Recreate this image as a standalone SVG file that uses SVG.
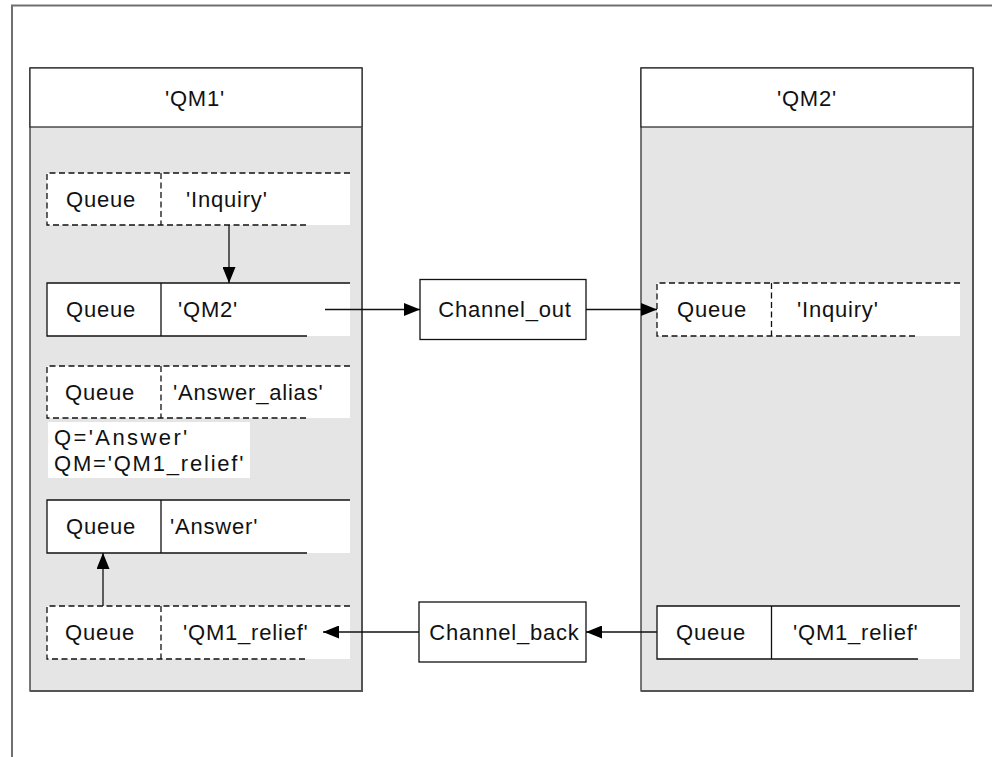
<svg xmlns="http://www.w3.org/2000/svg" width="992" height="757" viewBox="0 0 992 757">
<style>
text{font-family:"Liberation Sans",Arial,sans-serif;font-size:22px;fill:#111;letter-spacing:0.8px}
.qm{fill:#e5e5e5;stroke:#222;stroke-width:1.2}
.hdr{fill:#fff;stroke:#222;stroke-width:1.2}
.shadow{fill:none;stroke:#555;stroke-width:2}
.cell{fill:#fff;stroke:none}
.sl{stroke:#111;stroke-width:1.3;fill:none}
.dl{stroke:#111;stroke-width:1.3;fill:none;stroke-dasharray:6 3.5}
.box{fill:#fff;stroke:#111;stroke-width:1.3}
.conn{stroke:#111;stroke-width:1.3;fill:none;marker-end:url(#ah)}
.frame{stroke:#707070;stroke-width:2;fill:none}
.mid{text-anchor:middle}
</style>
<defs>
<marker id="ah" markerUnits="userSpaceOnUse" markerWidth="17" markerHeight="13" refX="16" refY="6.5" orient="auto">
<path d="M0,0 L16,6.5 L0,13 z" fill="#000"/>
</marker>
</defs>
<rect width="992" height="757" fill="#fff"/>
<path class="frame" d="M12,757 L12,5.5 L992,5.5"/>

<g id="qm1">
<rect class="qm" x="30" y="68" width="332" height="623"/>
<rect class="hdr" x="30" y="68" width="332" height="59"/>
<path class="shadow" d="M30,691 L362,691 L362,127"/>
<text class="mid" x="195" y="106">'QM1'</text>
</g>

<g id="qm2">
<rect class="qm" x="641" y="68" width="332" height="623"/>
<rect class="hdr" x="641" y="68" width="332" height="59"/>
<path class="shadow" d="M641,691 L973,691 L973,127"/>
<text class="mid" x="807" y="106">'QM2'</text>
</g>

<g id="qm1-inquiry">
<rect class="cell" x="47" y="173" width="303" height="52"/>
<path class="dl" d="M350,173 L47,173 L47,225 L307,225 M161,173 L161,225"/>
<text x="66" y="207">Queue</text>
<text x="186" y="207">'Inquiry'</text>
</g>

<g id="qm1-qm2">
<rect class="cell" x="47" y="283" width="303" height="53"/>
<path class="sl" d="M350,283 L47,283 L47,336 L307,336 M161,283 L161,336"/>
<text x="66" y="317">Queue</text>
<text x="178" y="317">'QM2'</text>
</g>

<g id="qm1-answer-alias">
<rect class="cell" x="47" y="366" width="303" height="52"/>
<path class="dl" d="M350,366 L47,366 L47,418 L307,418 M161,366 L161,418"/>
<text x="65" y="400">Queue</text>
<text x="173" y="400">'Answer_alias'</text>
</g>

<g id="alias-note">
<rect class="cell" x="48" y="422" width="202" height="56"/>
<text x="54" y="445" style="letter-spacing:2.4px">Q='Answer'</text>
<text x="54" y="471" style="letter-spacing:1.8px">QM='QM1_relief'</text>
</g>

<g id="qm1-answer">
<rect class="cell" x="47" y="500" width="303" height="53"/>
<path class="sl" d="M350,500 L47,500 L47,553 L307,553 M161,500 L161,553"/>
<text x="66" y="534">Queue</text>
<text x="170" y="534">'Answer'</text>
</g>

<g id="qm1-qm1relief">
<rect class="cell" x="47" y="606" width="303" height="53"/>
<path class="dl" d="M350,606 L47,606 L47,659 L307,659 M161,606 L161,659"/>
<text x="65" y="640">Queue</text>
<text x="183" y="640">'QM1_relief'</text>
</g>

<g id="qm2-inquiry">
<rect class="cell" x="657" y="283" width="303" height="53"/>
<path class="dl" d="M960,283 L657,283 L657,336 L918,336 M771.5,283 L771.5,336"/>
<text x="677" y="317">Queue</text>
<text x="797" y="317">'Inquiry'</text>
</g>

<g id="qm2-qm1relief">
<rect class="cell" x="657" y="606" width="303" height="53"/>
<path class="sl" d="M960,606 L657,606 L657,659 L918,659 M771.5,606 L771.5,659"/>
<text x="676" y="640">Queue</text>
<text x="793" y="640">'QM1_relief'</text>
</g>

<g id="channel-out">
<rect class="box" x="420" y="279.5" width="166" height="60"/>
<text class="mid" x="505" y="317">Channel_out</text>
</g>

<g id="channel-back">
<rect class="box" x="419" y="602" width="167" height="60"/>
<text class="mid" x="504.5" y="640">Channel_back</text>
</g>

<g id="connectors">
<path class="conn" d="M229,225 L229,283"/>
<path class="conn" d="M325,309.5 L420,309.5"/>
<path class="conn" d="M586,309.5 L657,309.5"/>
<path class="conn" d="M657,632 L586,632"/>
<path class="conn" d="M419,632 L323,632"/>
<path class="conn" d="M103,606 L103,553"/>
</g>
</svg>
